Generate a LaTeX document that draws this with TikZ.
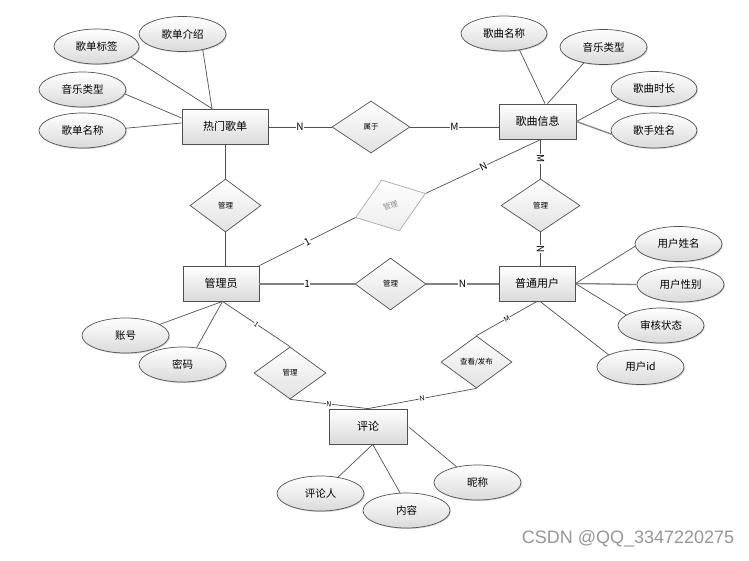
\documentclass[tikz,border=0pt]{standalone}
\usepackage{fontspec}
\setmainfont{Noto Sans CJK SC}
\newfontfamily\wmfont{Liberation Sans}
\usetikzlibrary{shapes.geometric,shadows}
\definecolor{edgec}{RGB}{80,80,80}
\definecolor{shadec}{RGB}{218,218,218}
\definecolor{ghostc}{RGB}{170,170,170}
\definecolor{ghosttext}{RGB}{140,140,140}
\definecolor{thickc}{RGB}{130,130,130}
\definecolor{wmc}{RGB}{150,150,150}
\begin{document}
\begin{tikzpicture}[x=1pt,y=-1pt,
  softshadow/.style={drop shadow={shadow xshift=1pt,shadow yshift=-1pt,opacity=0.35,fill=black!50}},
  ent/.style={draw=edgec, line width=0.8pt, top color=white, bottom color=shadec,
    minimum width=77pt, minimum height=35pt, inner sep=0pt,
    font=\fontsize{11}{13}\selectfont, softshadow},
  attr/.style={ellipse, draw=edgec, line width=0.7pt, top color=white, bottom color=shadec,
    minimum width=87pt, minimum height=35pt, inner sep=0pt,
    font=\fontsize{10.5}{12}\selectfont, softshadow},
  rel/.style={diamond, draw=edgec, line width=0.7pt, top color=white, bottom color=shadec!80,
    minimum width=72pt, minimum height=52pt, inner sep=0pt,
    font=\fontsize{7.5}{9}\selectfont},
  ghost/.style={draw=ghostc, text=ghosttext, top color=white, bottom color=shadec!50},
  conn/.style={draw=edgec, line width=0.7pt},
  heavy/.style={draw=thickc, line width=1.3pt},
  lab/.style={fill=white, inner sep=0.6pt, font=\fontsize{10}{11}\selectfont},
  slab/.style={fill=white, inner sep=0.4pt, font=\fontsize{7}{8}\selectfont},
]
\useasboundingbox (0,0) rectangle (749,560);

% entities
\node[ent, minimum width=86pt] (hot) at (225,126.5) {热门歌单};
\node[ent] (song) at (537.5,121.5) {歌曲信息};
\node[ent, minimum width=76pt] (admin) at (221,283.5) {管理员};
\node[ent, minimum width=76pt] (user) at (537,283.5) {普通用户};
\node[ent, minimum width=78pt] (comment) at (368,426.5) {评论};

% attributes
\node[attr] (jieshao) at (182.5,34) {歌单介绍};
\node[attr, minimum width=85pt] (biaoqian) at (96.5,46.5) {歌单标签};
\node[attr] (leixing1) at (82.5,89.5) {音乐类型};
\node[attr] (mingcheng1) at (82.5,130.5) {歌单名称};
\node[attr, minimum width=86pt] (smc) at (504,33.5) {歌曲名称};
\node[attr] (leixing2) at (603.5,47) {音乐类型};
\node[attr, minimum width=86pt] (shichang) at (654,89) {歌曲时长};
\node[attr, minimum width=86pt] (geshou) at (654,130.5) {歌手姓名};
\node[attr] (xingming) at (678.5,244) {用户姓名};
\node[attr] (xingbie) at (680.5,284.5) {用户性别};
\node[attr, minimum width=86pt] (shenhe) at (661,325.5) {审核状态};
\node[attr] (uid) at (640.5,367) {用户id};
\node[attr] (zhanghao) at (125.5,335.5) {账号};
\node[attr] (mima) at (182.5,364.5) {密码};
\node[attr] (pinglunren) at (320.5,493.5) {评论人};
\node[attr] (neirong) at (406.5,510.5) {内容};
\node[attr] (nicheng) at (477.5,482.5) {昵称};

% relationships
\node[rel, minimum width=78pt] (shuyu) at (371,127) {属于};
\node[rel, minimum width=71pt, minimum height=53pt] (gl1) at (225.5,205.5) {管理};
\node[rel, ghost, rotate=19, minimum width=74pt, minimum height=54pt] (gl5) at (390.5,205.5) {管理};
\node[rel, minimum width=79pt, minimum height=53pt] (gl3) at (540.5,205.5) {管理};
\node[rel, minimum width=71pt] (gl2) at (390.5,284) {管理};
\node[rel] (gl4) at (290,373) {管理};
\node[rel, minimum width=71pt] (chakan) at (476.5,362) {查看/发布};

% attribute connectors: hot list
\draw[conn] ([xshift=-13pt]hot.north) -- (jieshao.-38);
\draw[conn] ([xshift=-13pt]hot.north) -- (biaoqian.-17);
\draw[conn] ([yshift=8.5pt]hot.west) -- (leixing1.-6);
\draw[conn] ([yshift=3.5pt]hot.west) -- (mingcheng1.3);
% song
\draw[conn] ([xshift=7.5pt]song.north) -- (smc.-47);
\draw[conn] ([xshift=10pt]song.north) -- (leixing2.-141);
\draw[conn] (song.east) -- (shichang.-164);
\draw[heavy] (song.east) -- (geshou.185);
% user
\draw[conn] (user.east) -- (xingming.183.5);
\draw[heavy] (user.east) -- (xingbie.west);
\draw[conn] (user.east) -- (shenhe.163.7);
\draw[conn] ([xshift=3pt]user.south) -- (uid.159);
% admin
\draw[conn] ([xshift=1.5pt]admin.south) -- (zhanghao.18);
\draw[conn] ([xshift=1.5pt]admin.south) -- (mima.50);
% comment
\draw[conn] ([xshift=4.7pt]comment.south) -- (pinglunren.43);
\draw[conn] ([xshift=4.7pt]comment.south) -- (neirong.110);
\draw[conn] ([xshift=2pt,yshift=-1pt]comment.east) -- (nicheng.143.8);

% relationship connectors
\draw[conn] (hot.east |- shuyu.west) -- node[lab] {N} (shuyu.west);
\draw[conn] (shuyu.east) -- node[lab] {M} (song.west |- shuyu.east);
\draw[conn] (hot.south -| gl1.north) -- (gl1.north);
\draw[conn] (gl1.south) -- (gl1.south |- admin.north);
\draw[conn] (admin.north east) -- node[lab, sloped] {1} (gl5.west);
\draw[conn] (gl5.east) -- node[lab, sloped] {N} ([xshift=3.5pt]song.south);
\draw[conn] (song.south -| gl3.north) -- node[lab, sloped] {M} (gl3.north);
\draw[conn] (gl3.south) -- node[lab, sloped] {N} (gl3.south |- user.north);
\draw[heavy] (admin.east |- gl2.west) -- node[lab] {1} (gl2.west);
\draw[heavy] (gl2.east) -- node[lab] {N} (user.west |- gl2.east);
\draw[conn] ([xshift=1.5pt]admin.south) -- node[slab, sloped] {1} (gl4.north);
\draw[conn] (gl4.south) -- node[slab, sloped] {N} (comment.north);
\draw[conn] (chakan.north) -- node[slab, sloped] {M} (user.south);
\draw[conn] (chakan.south) -- node[slab, sloped] {N} (comment.north);

% watermark
\node[font=\wmfont\fontsize{18}{20}\selectfont, text=wmc] (wm) at (628,539) {CSDN @QQ\_3347220275};
\end{tikzpicture}
\end{document}
